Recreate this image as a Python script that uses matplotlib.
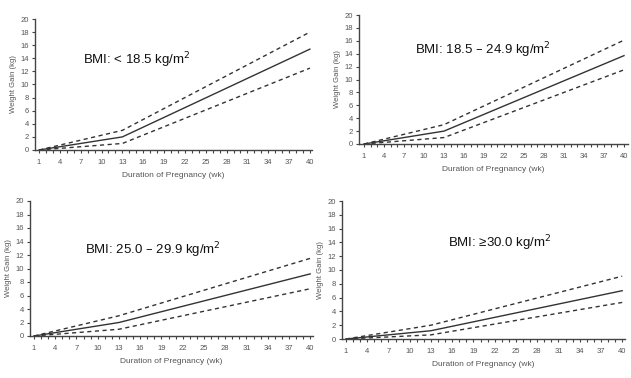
import matplotlib
matplotlib.use("Agg")
import matplotlib.pyplot as plt
from matplotlib.ticker import MultipleLocator, FixedLocator

plt.rcParams['font.family'] = ['Liberation Sans', 'DejaVu Sans']

weeks = [1, 13, 40]
titles = ["BMI: < 18.5 kg/m$^2$", "BMI: 18.5 \u2013 24.9 kg/m$^2$",
          "BMI: 25.0 \u2013 29.9 kg/m$^2$", "BMI: \u226530.0 kg/m$^2$"]
mean_gain = [[0, 2.0, 15.4], [0, 2.0, 13.7], [0, 2.0, 9.2], [0, 1.2, 7.0]]
upper_gain = [[0, 3.0, 18.0], [0, 3.0, 16.1], [0, 3.0, 11.5], [0, 2.0, 9.1]]
lower_gain = [[0, 1.0, 12.5], [0, 1.0, 11.5], [0, 1.0, 7.0], [0, 0.6, 5.3]]
x_ticks = list(range(1, 41, 3))
y_ticks = list(range(0, 21, 2))

W, H = 631, 378
fig = plt.figure(figsize=(W / 100, H / 100), dpi=100)

# (left px, top px, right px, bottom px, xmin, xmax)
layout = [
    (35, 19, 312, 150, 0.42, 40.3),
    (359, 15, 628, 144, 0.25, 40.6),
    (30, 201, 313, 336, 0.44, 40.4),
    (342, 201, 625, 339, 0.44, 40.4),
]
text_pos = [(83, 60), (415, 50), (85, 250), (448, 243)]

gray = '#555555'
for i, (l, t, r, b, x0, x1) in enumerate(layout):
    ax = fig.add_axes([l / W, 1 - b / H, (r - l) / W, (b - t) / H])
    ax.plot(weeks, mean_gain[i], color='#333333', lw=1.0)
    ax.plot(weeks, upper_gain[i], color='#333333', lw=1.0, ls=(0, (3, 2.5)))
    ax.plot(weeks, lower_gain[i], color='#333333', lw=1.0, ls=(0, (3, 2.5)))
    ax.set_xlim(x0, x1)
    ax.set_ylim(0, 20)
    ax.xaxis.set_major_locator(FixedLocator(x_ticks))
    ax.xaxis.set_minor_locator(MultipleLocator(1))
    ax.yaxis.set_major_locator(FixedLocator(y_ticks))
    for s in ['top', 'right']:
        ax.spines[s].set_visible(False)
    for s in ['left', 'bottom']:
        ax.spines[s].set_color('#444444')
        ax.spines[s].set_linewidth(1.0)
    ax.tick_params(axis='both', which='major', labelsize=5.5, labelcolor=gray,
                   color='#444444', length=2.5, width=0.8, pad=2)
    ax.tick_params(axis='x', which='major', pad=4)
    ax.tick_params(axis='x', which='minor', length=2.5, width=0.8, color='#444444')
    ax.set_xlabel("Duration of Pregnancy (wk)", fontsize=6, color=gray, labelpad=4)
    ax.set_ylabel("Weight Gain (kg)", fontsize=5.5, color=gray, labelpad=2)
    tx, ty = text_pos[i]
    fig.text(tx / W, 1 - ty / H, titles[i], fontsize=9.5, color='#111111',
             ha='left', va='center')

fig.savefig("out.png", dpi=100, facecolor='white')
